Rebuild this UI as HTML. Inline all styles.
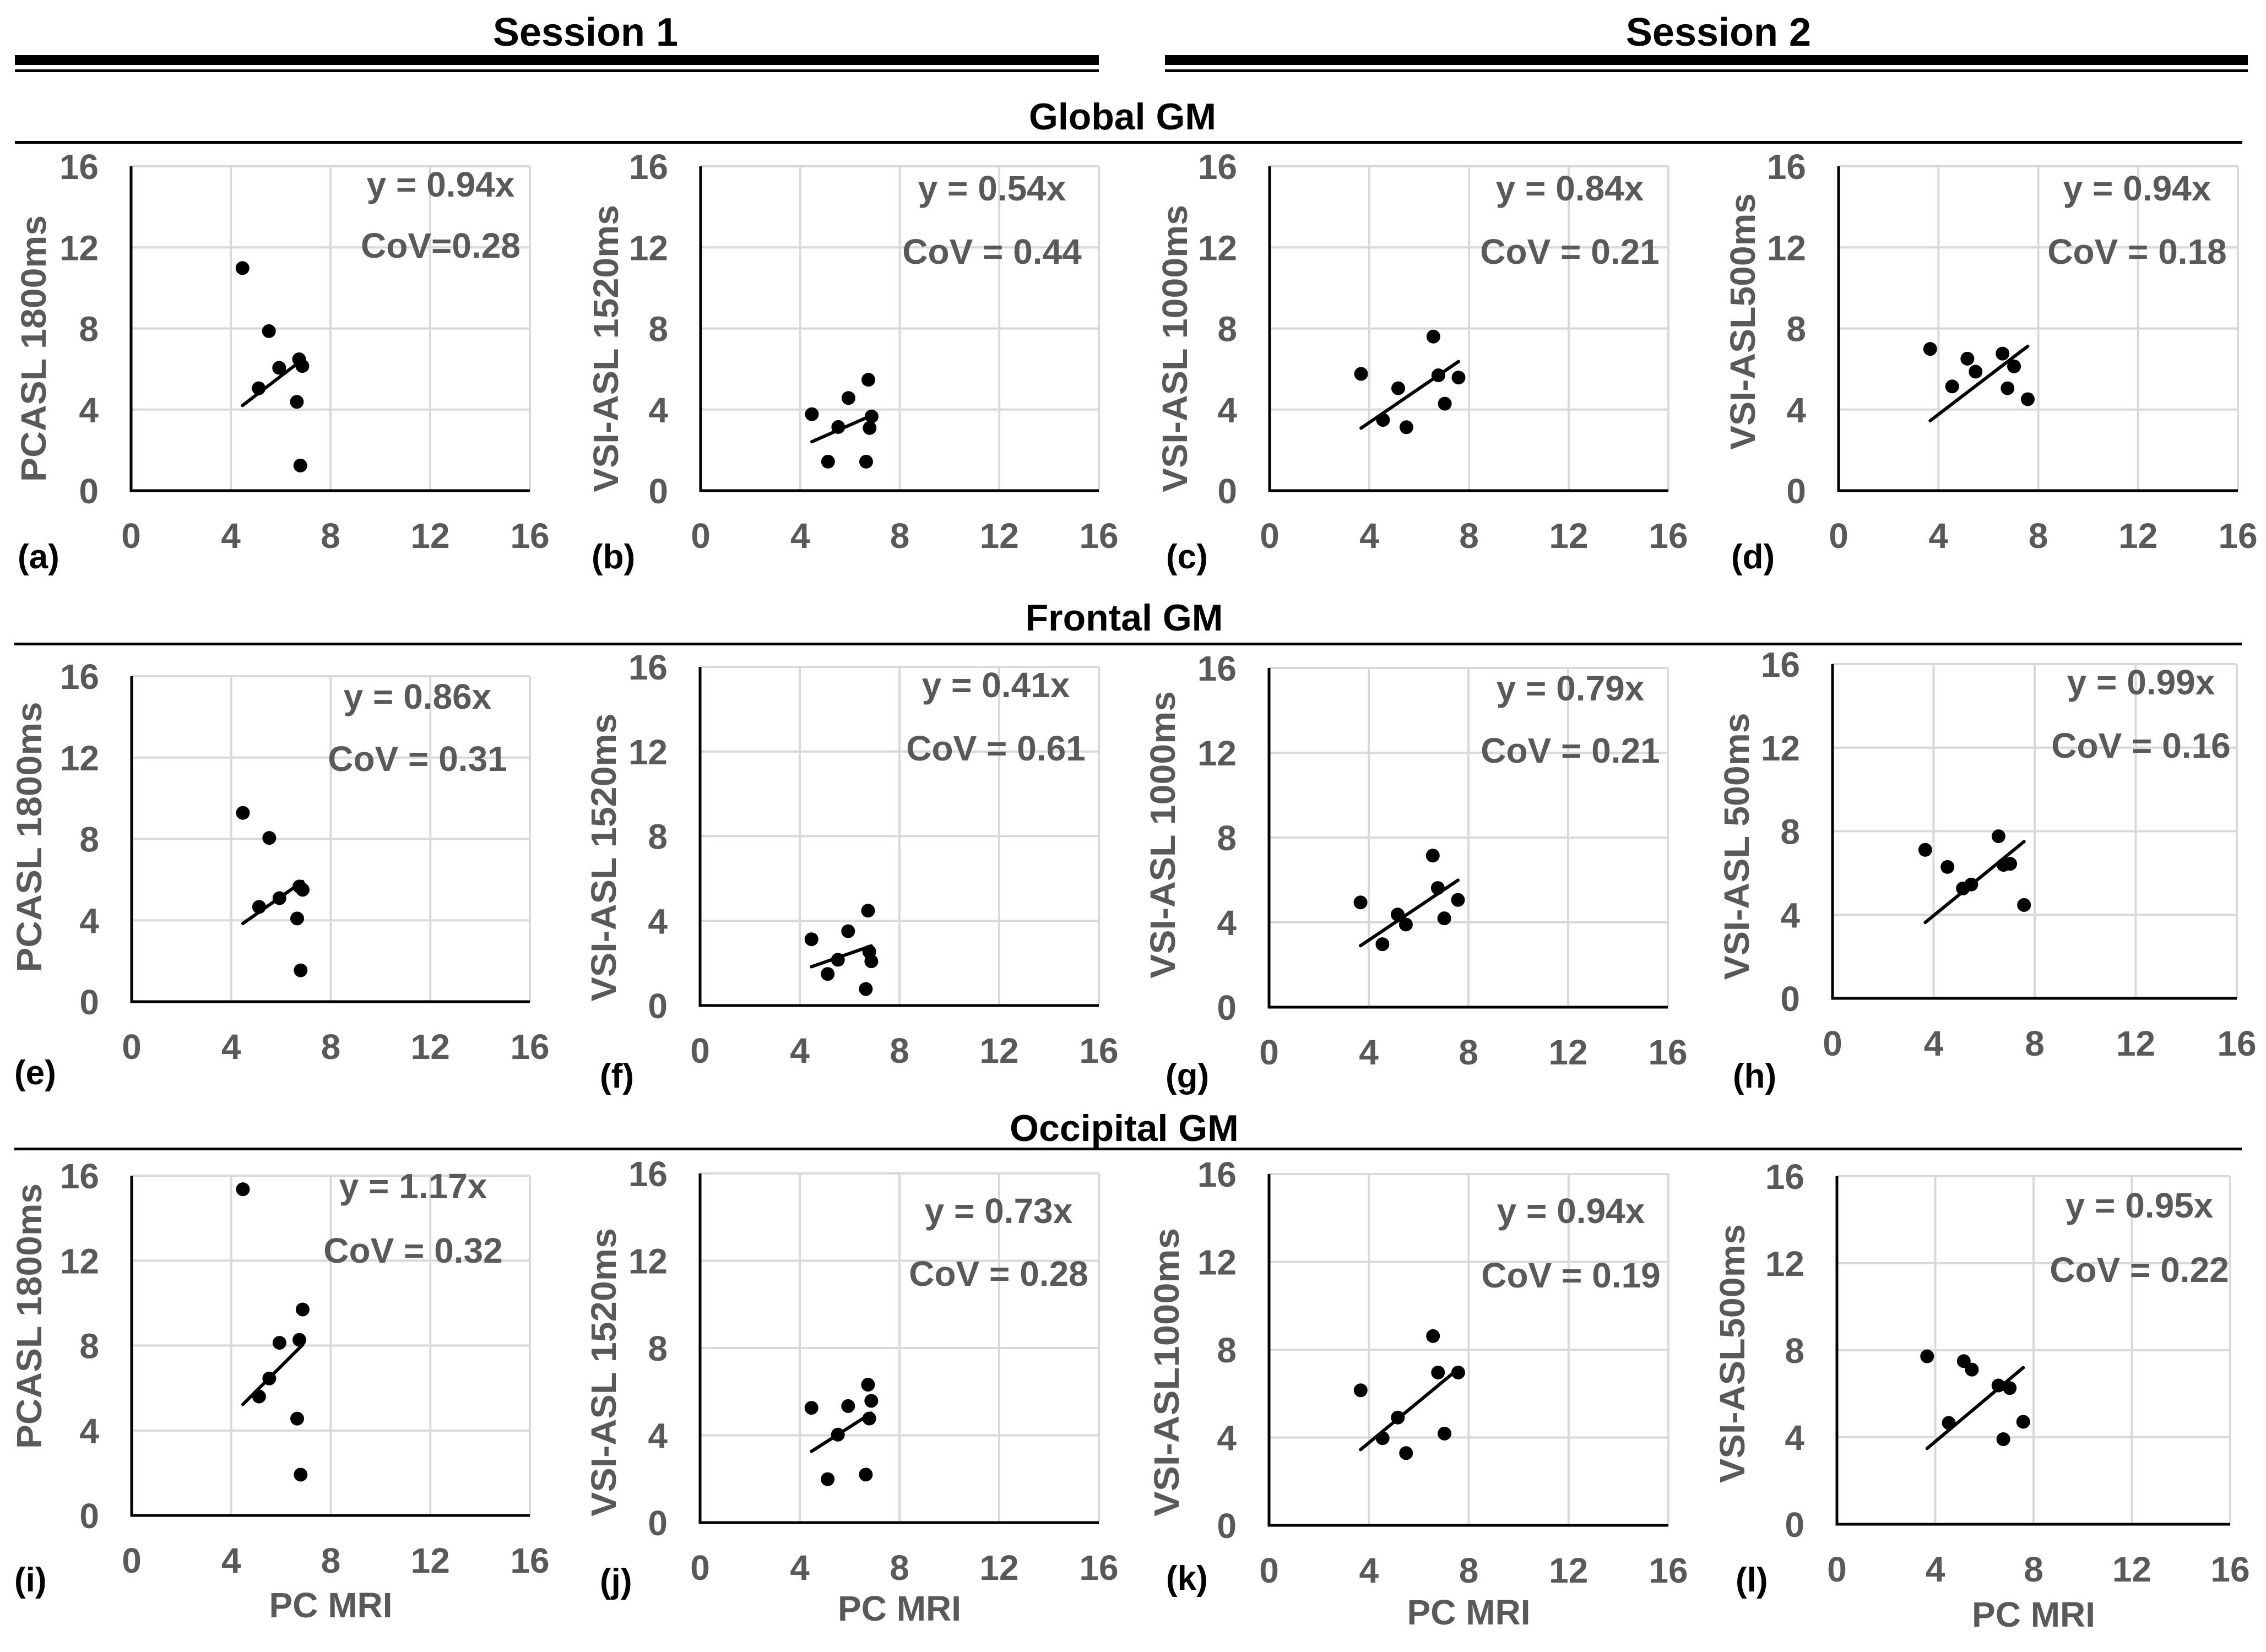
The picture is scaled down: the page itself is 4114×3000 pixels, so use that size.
<!DOCTYPE html>
<html><head><meta charset="utf-8">
<style>
html,body{margin:0;padding:0;background:#fff;}
svg{display:block;font-family:"Liberation Sans",Arial,sans-serif;font-weight:bold;}
</style></head>
<body>
<svg id="fig" width="4114" height="3000" viewBox="0 0 4114 3000" xmlns="http://www.w3.org/2000/svg">
<rect x="0" y="0" width="4114" height="3000" fill="#fff"/>
<text x="1063" y="83" font-size="72" text-anchor="middle" fill="#000">Session 1</text>
<text x="3120" y="83" font-size="72" text-anchor="middle" fill="#000">Session 2</text>
<rect x="27" y="100" width="1968" height="18" fill="#000"/>
<rect x="27" y="126" width="1968" height="5" fill="#000"/>
<rect x="2115" y="100" width="1966" height="18" fill="#000"/>
<rect x="2115" y="126" width="1966" height="5" fill="#000"/>
<text x="2038" y="235" font-size="68" text-anchor="middle" fill="#000">Global GM</text>
<rect x="27" y="256" width="4044" height="5" fill="#000"/>
<text x="2041" y="1145" font-size="68" text-anchor="middle" fill="#000">Frontal GM</text>
<rect x="26" y="1167" width="4044" height="5" fill="#000"/>
<text x="2041" y="2072" font-size="68" text-anchor="middle" fill="#000">Occipital GM</text>
<rect x="26" y="2084" width="4044" height="5" fill="#000"/>
<g id="panels"></g>
</svg>
<script>
// ---- data ----
const xTicks = [0, 4, 8, 12, 16];
const yTicks = [0, 4, 8, 12, 16];
const xSession1 = [4.47, 5.12, 5.53, 5.94, 6.65, 6.74, 6.79, 6.87];
const xSession2 = [3.67, 4.55, 5.16, 5.49, 6.57, 6.77, 7.03, 7.58];
const yA = [10.98, 5.05, 7.87, 6.06, 4.38, 6.48, 1.24, 6.15];
const yB = [3.77, 1.43, 3.14, 4.57, 1.43, 5.47, 3.09, 3.66];
const yC = [5.76, 3.49, 5.05, 3.13, 7.60, 5.69, 4.29, 5.58];
const yD = [6.99, 5.14, 6.51, 5.87, 6.76, 5.05, 6.13, 4.51];
const yE = [9.28, 4.66, 8.05, 5.09, 4.09, 5.66, 1.54, 5.50];
const yF = [3.13, 1.49, 2.16, 3.51, 0.78, 4.48, 2.54, 2.09];
const yG = [4.94, 2.97, 4.37, 3.90, 7.15, 5.62, 4.19, 5.06];
const yH = [7.11, 6.29, 5.26, 5.45, 7.76, 6.39, 6.44, 4.47];
const yI = [15.36, 5.60, 6.45, 8.13, 4.56, 8.27, 1.92, 9.70];
const yJ = [5.26, 1.99, 4.03, 5.34, 2.20, 6.32, 4.77, 5.58];
const yK = [6.15, 3.97, 4.91, 3.29, 8.62, 6.96, 4.18, 6.96];
const yL = [7.72, 4.66, 7.50, 7.11, 6.38, 3.91, 6.26, 4.71];
const slopes = [0.94, 0.54, 0.84, 0.94, 0.86, 0.41, 0.79, 0.99, 1.17, 0.73, 0.94, 0.95];
const slopeLabels = ["y = 0.94x","y = 0.54x","y = 0.84x","y = 0.94x","y = 0.86x","y = 0.41x","y = 0.79x","y = 0.99x","y = 1.17x","y = 0.73x","y = 0.94x","y = 0.95x"];
const covLabels = ["CoV=0.28","CoV = 0.44","CoV = 0.21","CoV = 0.18","CoV = 0.31","CoV = 0.61","CoV = 0.21","CoV = 0.16","CoV = 0.32","CoV = 0.28","CoV = 0.19","CoV = 0.22"];
const yTitles = ["PCASL 1800ms","VSI-ASL 1520ms","VSI-ASL 1000ms","VSI-ASL500ms","PCASL 1800ms","VSI-ASL 1520ms","VSI-ASL 1000ms","VSI-ASL 500ms","PCASL 1800ms","VSI-ASL 1520ms","VSI-ASL1000ms","VSI-ASL500ms"];
const letters = ["(a)","(b)","(c)","(d)","(e)","(f)","(g)","(h)","(i)","(j)","(k)","(l)"];
const ySeries = [yA,yB,yC,yD,yE,yF,yG,yH,yI,yJ,yK,yL];
const xSeries = [xSession1,xSession1,xSession2,xSession2,xSession1,xSession1,xSession2,xSession2,xSession1,xSession1,xSession2,xSession2];

// ---- layout (pixel geometry) ----
const frames = [
 {l:238,r:962,t:302,b:891, lx:32,ly:1032, tx:60,ty:633,tl:484, ax:800,ay1:337,ay2:445},
 {l:1272,r:1995,t:302,b:891, lx:1074,ly:1032, tx:1099,ty:633,tl:522, ax:1801,ay1:344,ay2:456},
 {l:2305,r:3029,t:302,b:891, lx:2117,ly:1032, tx:2132,ty:633,tl:522, ax:2850,ay1:344,ay2:456},
 {l:3338,r:4063,t:302,b:891, lx:3143,ly:1032, tx:3163,ty:584,tl:466, ax:3880,ay1:344,ay2:456},
 {l:239,r:962,t:1228,b:1819, lx:26,ly:1969, tx:52,ty:1520,tl:491, ax:758,ay1:1267,ay2:1377},
 {l:1271,r:1995,t:1211,b:1826, lx:1089,ly:1975, tx:1095,ty:1557,tl:523, ax:1808,ay1:1246,ay2:1358},
 {l:2304,r:3028,t:1213,b:1829, lx:2116,ly:1975, tx:2110,ty:1516,tl:522, ax:2851,ay1:1252,ay2:1362},
 {l:3327,r:4061,t:1206,b:1813, lx:3146,ly:1975, tx:3152,ty:1537,tl:485, ax:3887,ay1:1241,ay2:1353},
 {l:239,r:962,t:2135,b:2752, lx:26,ly:2890, tx:52,ty:2390,tl:482, ax:750,ay1:2156,ay2:2270},
 {l:1271,r:1995,t:2131,b:2765, lx:1089,ly:2892, tx:1095,ty:2492,tl:524, ax:1813,ay1:2201,ay2:2312},
 {l:2304,r:3029,t:2132,b:2770, lx:2117,ly:2887, tx:2117,ty:2492,tl:524, ax:2852,ay1:2201,ay2:2315},
 {l:3335,r:4049,t:2136,b:2768, lx:3151,ly:2890, tx:3144,ty:2458,tl:470, ax:3884,ay1:2191,ay2:2305}
];
const xTitleY = [null,null,null,null,null,null,null,null,2914,2920,2927,2931];

const NS = "http://www.w3.org/2000/svg";
const root = document.getElementById('panels');
function mk(tag, attrs, parent){
  const e = document.createElementNS(NS, tag);
  for (const k in attrs) e.setAttribute(k, attrs[k]);
  parent.appendChild(e);
  return e;
}
const GRAY = "#595959";

frames.forEach((f, i) => {
  const g = mk('g', {}, root);
  
  
  const sx = v => f.l + (v - 0) / 16 * (f.r - f.l);
  const sy = v => f.b - (v - 0) / 16 * (f.b - f.t);

  // gridlines
  xTicks.forEach(t => {
    if (t === 0) return;
    const ln = mk('line', {x1:sx(t), x2:sx(t), y1:f.t, y2:f.b, stroke:'#d9d9d9', 'stroke-width':4}, g);
    
    
  });
  yTicks.forEach(t => {
    if (t === 0) return;
    const ln = mk('line', {x1:f.l, x2:f.r, y1:sy(t), y2:sy(t), stroke:'#d9d9d9', 'stroke-width':4}, g);
    
    
  });
  // axes
  const ya = mk('line', {x1:f.l, x2:f.l, y1:f.t, y2:f.b+2, stroke:'#000', 'stroke-width':5}, g);
  
  
  const xa = mk('line', {x1:f.l-2, x2:f.r, y1:f.b, y2:f.b, stroke:'#000', 'stroke-width':5}, g);
  
  

  // tick labels
  yTicks.forEach(t => {
    const tx = mk('text', {x:f.l-59, y:sy(t)+23, 'font-size':64, 'text-anchor':'end', fill:GRAY}, g);
    tx.textContent = t;
    
    
  });
  xTicks.forEach(t => {
    const tx = mk('text', {x:sx(t), y:f.b+104, 'font-size':64, 'text-anchor':'middle', fill:GRAY}, g);
    tx.textContent = t;
    
    
  });

  // y-axis title
  const yt = mk('text', {x:0, y:0, 'font-size':64, 'text-anchor':'middle', fill:GRAY,
    transform:'translate(' + (f.tx+23) + ',' + f.ty + ') rotate(-90)', textLength:f.tl, lengthAdjust:'spacingAndGlyphs'}, g);
  yt.textContent = yTitles[i];
  
  

  // x-axis title
  if (xTitleY[i]) {
    const xt = mk('text', {x:(f.l+f.r)/2, y:xTitleY[i]+23, 'font-size':64, 'text-anchor':'middle', fill:GRAY}, g);
    xt.textContent = 'PC MRI';
    
    
  }

  // panel letter
  const lt = mk('text', {x:f.lx, y:f.ly, 'font-size':62, fill:'#000'}, g);
  lt.textContent = letters[i];
  
  

  // regression line through origin over x range
  const xs = xSeries[i], ys = ySeries[i];
  const xmin = Math.min(...xs), xmax = Math.max(...xs);
  const tl = mk('line', {x1:sx(xmin), y1:sy(slopes[i]*xmin), x2:sx(xmax), y2:sy(slopes[i]*xmax), stroke:'#000', 'stroke-width':6, 'stroke-linecap':'round'}, g);
  
  

  // points
  xs.forEach((xv, k) => {
    const c = mk('circle', {cx:sx(xv), cy:sy(ys[k]), r:12.5, fill:'#000'}, g);
    
    
  });

  // annotations
  const a1 = mk('text', {x:f.ax, y:f.ay1+20, 'font-size':64, 'text-anchor':'middle', fill:GRAY}, g);
  a1.textContent = slopeLabels[i];
  
  
  const a2 = mk('text', {x:f.ax, y:f.ay2+23, 'font-size':64, 'text-anchor':'middle', fill:GRAY}, g);
  a2.textContent = covLabels[i];
  
  
});
</script>
</body></html>
